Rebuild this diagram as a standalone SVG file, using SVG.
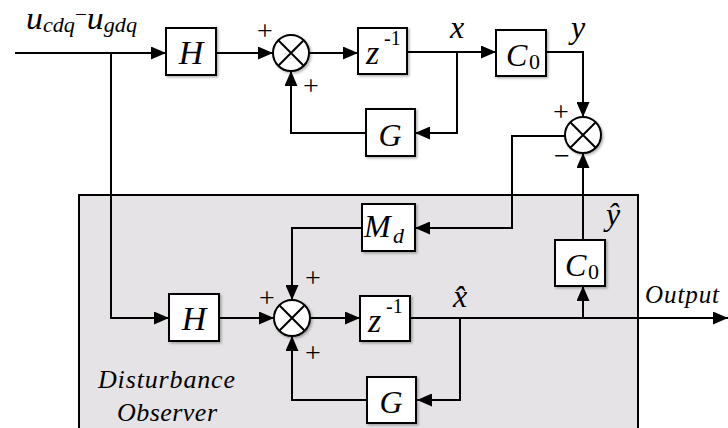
<svg xmlns="http://www.w3.org/2000/svg" width="728" height="428" viewBox="0 0 728 428">
<style>
.ln{fill:none;stroke:#000;stroke-width:2}
.box{fill:#fff;stroke:#000;stroke-width:2;filter:url(#sh)}
.sum{fill:#fff;stroke:#000;stroke-width:2;filter:url(#sh)}
.x{stroke:#000;stroke-width:2}
</style>
<defs>
<marker id="ah" markerWidth="15" markerHeight="13" refX="15" refY="6.5" orient="auto" markerUnits="userSpaceOnUse">
<path d="M0,0 L15,6.5 L0,13 z" fill="#000"/>
</marker>
<filter id="sh" x="-20%" y="-20%" width="150%" height="150%">
<feDropShadow dx="1.5" dy="1.5" stdDeviation="1" flood-color="#000" flood-opacity="0.3"/>
</filter>
</defs>

<rect id="observer" x="79" y="195" width="559" height="245" fill="#e5e3e5" stroke="#000" stroke-width="2"/>

<g id="connectors">
<path class="ln" d="M15,53 H166" marker-end="url(#ah)"/>
<path class="ln" d="M111,53 V318 H169" marker-end="url(#ah)"/>
<path class="ln" d="M216,53 H273" marker-end="url(#ah)"/>
<path class="ln" d="M309,53 H358" marker-end="url(#ah)"/>
<path class="ln" d="M407,52 H496" marker-end="url(#ah)"/>
<path class="ln" d="M457,52 V133 H415" marker-end="url(#ah)"/>
<path class="ln" d="M366,133 H291 V71" marker-end="url(#ah)"/>
<path class="ln" d="M546,52 H583 V117" marker-end="url(#ah)"/>
<path class="ln" d="M565,136 H512 V228 H415" marker-end="url(#ah)"/>
<path class="ln" d="M362,228 H292 V300" marker-end="url(#ah)"/>
<path class="ln" d="M219,318 H274" marker-end="url(#ah)"/>
<path class="ln" d="M310,318 H360" marker-end="url(#ah)"/>
<path class="ln" d="M410,318 H728" marker-end="url(#ah)"/>
<path class="ln" d="M460,318 V400 H417" marker-end="url(#ah)"/>
<path class="ln" d="M367,400 H292 V336" marker-end="url(#ah)"/>
<path class="ln" d="M583,318 V286" marker-end="url(#ah)"/>
<path class="ln" d="M583,240 V153" marker-end="url(#ah)"/>
</g>

<g font-family="Liberation Serif, DejaVu Serif, serif" fill="#000">
<g id="H1"><rect class="box" x="166" y="28" width="50" height="47"/><text font-style="italic" text-anchor="middle" x="191" y="64" font-size="34">H</text></g>
<g id="sum1"><circle class="sum" cx="291" cy="53" r="18"/><path class="x" d="M278.3,40.3 L303.7,65.7 M303.7,40.3 L278.3,65.7"/></g>
<g id="Z1"><rect class="box" x="358" y="28" width="49" height="46"/><text font-style="italic" x="366" y="64" font-size="34">z</text><text x="384" y="45" font-size="20">-1</text></g>
<g id="C01"><rect class="box" x="496" y="30" width="50" height="46"/><text font-style="italic" x="506" y="66" font-size="32">C</text><text x="529" y="69" font-size="22">0</text></g>
<g id="G1"><rect class="box" x="366" y="109" width="49" height="47"/><text font-style="italic" text-anchor="middle" x="390" y="146" font-size="32">G</text></g>
<g id="sum2"><circle class="sum" cx="583" cy="135" r="18"/><path class="x" d="M570.3,122.3 L595.7,147.7 M595.7,122.3 L570.3,147.7"/></g>

<g id="Md"><rect class="box" x="362" y="204" width="53" height="47"/><text font-style="italic" x="364" y="237" font-size="32">M</text><text font-style="italic" x="393" y="243" font-size="22">d</text></g>
<g id="H2"><rect class="box" x="169" y="294" width="50" height="47"/><text font-style="italic" text-anchor="middle" x="194" y="330" font-size="34">H</text></g>
<g id="sum3"><circle class="sum" cx="292" cy="318" r="18"/><path class="x" d="M279.3,305.3 L304.7,330.7 M304.7,305.3 L279.3,330.7"/></g>
<g id="Z2"><rect class="box" x="360" y="296" width="50" height="45"/><text font-style="italic" x="368" y="332" font-size="34">z</text><text x="386" y="313" font-size="20">-1</text></g>
<g id="G2"><rect class="box" x="367" y="377" width="49" height="46"/><text font-style="italic" text-anchor="middle" x="391" y="413" font-size="32">G</text></g>
<g id="C02"><rect class="box" x="555" y="240" width="50" height="46"/><text font-style="italic" x="565" y="276" font-size="32">C</text><text x="588" y="279" font-size="22">0</text></g>

<g id="labels">
<text font-style="italic" x="26" y="29" font-size="32" textLength="111" lengthAdjust="spacingAndGlyphs">u<tspan font-size="21" dy="3">cdq</tspan><tspan font-style="normal" font-size="20" dy="-11">−</tspan><tspan dy="8">u</tspan><tspan font-size="21" dy="3">gdq</tspan></text>
<text font-style="italic" text-anchor="middle" x="457" y="38" font-size="32">x</text>
<text font-style="italic" text-anchor="middle" x="578" y="38" font-size="32">y</text>
<text font-style="italic" text-anchor="middle" x="460" y="307" font-size="32">x&#x302;</text>
<text font-style="italic" text-anchor="middle" x="613" y="225" font-size="32">y&#x302;</text>
<text font-style="italic" x="645" y="303" font-size="25" textLength="74" lengthAdjust="spacing">Output</text>
<text font-style="italic" x="98" y="388" font-size="26" textLength="137" lengthAdjust="spacing">Disturbance</text>
<text font-style="italic" x="117" y="421" font-size="26" textLength="100" lengthAdjust="spacing">Observer</text>
<g font-size="28" text-anchor="middle">
<text x="265" y="40">+</text>
<text x="311" y="95">+</text>
<text x="561" y="121">+</text>
<text x="562" y="165">−</text>
<text x="267" y="307">+</text>
<text x="313" y="287">+</text>
<text x="313" y="362">+</text>
</g>
</g>
</g>
</svg>
